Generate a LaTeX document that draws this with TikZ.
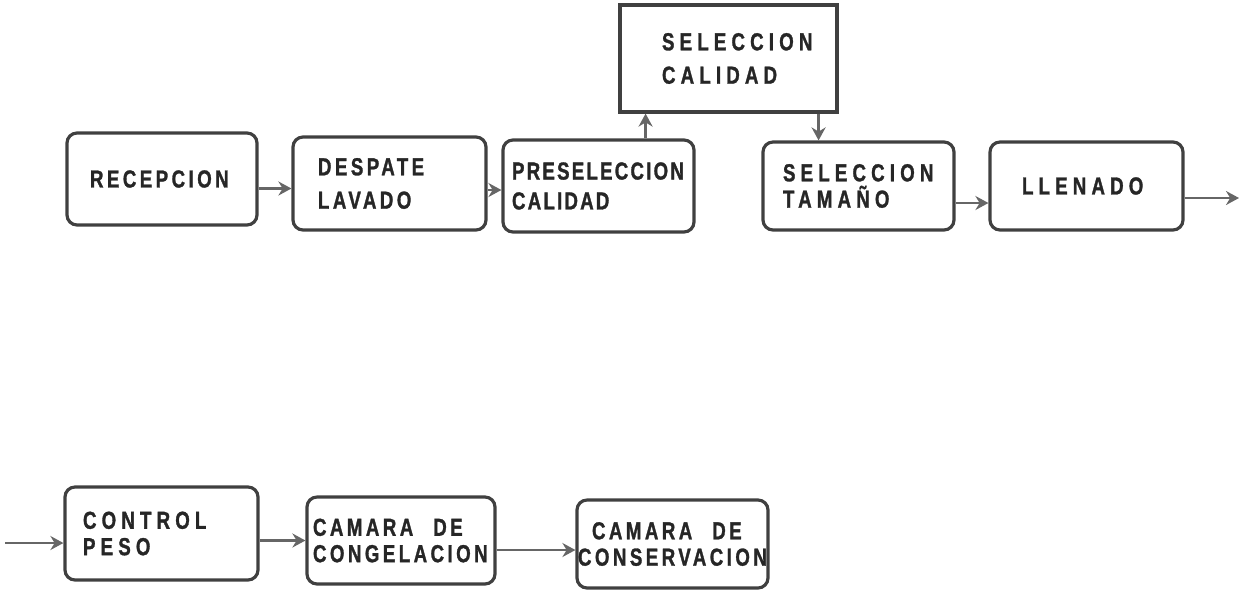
\documentclass[tikz,border=0pt]{standalone}
\usepackage{fontspec}
\usetikzlibrary{positioning, arrows.meta}
\newfontfamily\stencilfont[FakeStretch=0.76, FakeBold=1.2, LetterSpace=14]{Liberation Sans Bold}
\newfontfamily\widestencilfont[FakeStretch=0.76, FakeBold=1.2, LetterSpace=21]{Liberation Sans Bold}
\newfontfamily\tightstencilfont[FakeStretch=0.76, FakeBold=1.2, LetterSpace=9]{Liberation Sans Bold}

\begin{document}
\begin{tikzpicture}
    [
        node distance=4cm and 4cm, on grid,
        box_node/.style={rectangle, rounded corners=2mm, draw=black!75, line width=1.8pt, inner xsep=0pt, align=left, font=\stencilfont\fontsize{14}{15}\selectfont, text=black!85},
        top_node/.style={box_node, rounded corners=0pt},
        wide_text/.style={font=\widestencilfont\fontsize{14}{15}\selectfont},
        flow/.style={-{Stealth[length=2.6mm, width=2.8mm]}, line width=1.6pt, color=black!60},
    ]
        \useasboundingbox (0,0) rectangle (24.82,-11.88);
        \node[box_node, minimum width=3.80cm, minimum height=1.84cm, text width=2.88cm] (recep) at (3.24,-3.58) {RECEPCION} ;
        \node[box_node, minimum width=3.86cm, minimum height=1.86cm, text width=2.86cm, font=\stencilfont\fontsize{14}{19}\selectfont] (desp) [below right=0.09cm and 4.55cm of recep] {DESPATE\\LAVADO} ;
        \node[box_node, minimum width=3.82cm, minimum height=1.84cm, text width=3.46cm, font=\tightstencilfont\fontsize{14}{17}\selectfont] (presel) [below right=0.05cm and 4.18cm of desp] {PRESELECCION\\CALIDAD} ;
        \node[top_node, minimum width=4.34cm, minimum height=2.14cm, text width=2.66cm, font=\widestencilfont\fontsize{14}{19}\selectfont] (selcal) [above right=2.55cm and 2.60cm of presel] {SELECCION\\CALIDAD} ;
        \node[box_node, wide_text, minimum width=3.82cm, minimum height=1.76cm, text width=3.02cm] (tam) [right=5.20cm of presel] {SELECCION\\TAMAÑO} ;
        \node[box_node, wide_text, minimum width=3.86cm, minimum height=1.76cm, text width=2.58cm] (llen) [right=4.56cm of tam] {LLENADO} ;
        \node[box_node, wide_text, minimum width=3.86cm, minimum height=1.86cm, text width=3.14cm] (ctrl) at (3.23,-10.67) {CONTROL\\PESO} ;
        \node[box_node, minimum width=3.76cm, minimum height=1.74cm, text width=3.52cm] (cong) [below right=0.14cm and 4.79cm of ctrl] {CAMARA\hspace{4mm}DE\\CONGELACION} ;
        \node[box_node, minimum width=3.82cm, minimum height=1.76cm, text width=3.78cm] (cons) [below right=0.07cm and 5.43cm of cong] {\hspace*{2.8mm}CAMARA\hspace{4mm}DE\\CONSERVACION} ;
        \coordinate (out) at (24.78,-3.96) ;
        \coordinate (in) at (0.10,-10.86) ;
        \draw[flow] ([yshift=-1mm]desp.west -| recep.east) -- ([yshift=-1mm]desp.west) ;
        \draw[flow] ([yshift=-0.8mm]presel.west -| desp.east) -- ([yshift=-0.8mm]presel.west) ;
        \draw[flow] ([xshift=-10mm]presel.north east) -- ([xshift=-10mm]presel.north east |- selcal.south) ;
        \draw[flow] ([xshift=-4mm]selcal.south east) -- ([xshift=-4mm]selcal.south east |- tam.north) ;
        \draw[flow] ([yshift=-3.4mm]llen.west -| tam.east) -- ([yshift=-3.4mm]llen.west) ;
        \draw[flow] (llen.east |- out) -- (out) ;
        \draw[flow] (in) -- (in -| ctrl.west) ;
        \draw[flow] (cong.west -| ctrl.east) -- (cong.west) ;
        \draw[flow] ([yshift=-1.2mm]cons.west -| cong.east) -- ([yshift=-1.2mm]cons.west) ;
    \end{tikzpicture}
\end{document}
